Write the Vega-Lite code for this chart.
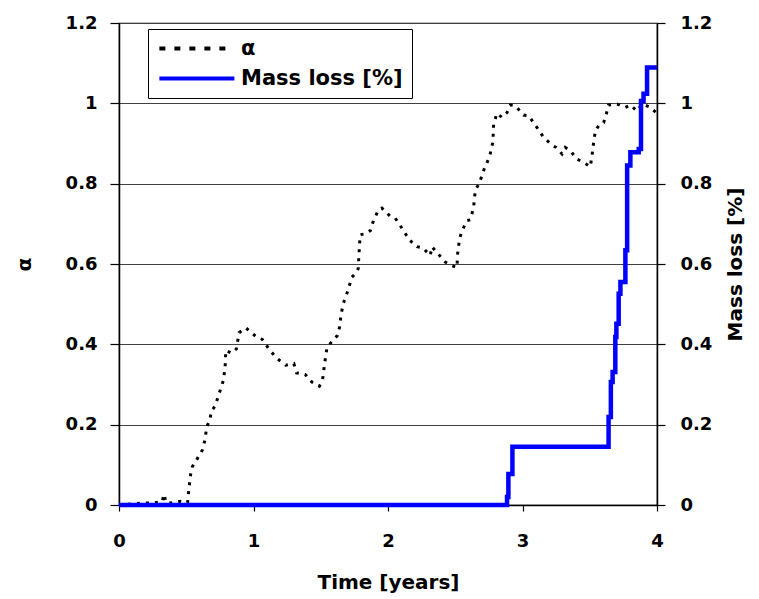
{
  "$schema": "https://vega.github.io/schema/vega-lite/v6.json",
  "width": 538,
  "height": 482,
  "autosize": "none",
  "padding": {"left": 119, "top": 23, "right": 102, "bottom": 94},
  "background": "white",
  "config": {
    "font": "DejaVu Sans",
    "view": {"stroke": "black", "strokeWidth": 1.2},
    "axis": {
      "labelFont": "DejaVu Sans", "labelFontWeight": "bold", "labelFontSize": 18, "labelColor": "black",
      "titleFont": "DejaVu Sans", "titleFontWeight": "bold", "titleFontSize": 20, "titleColor": "black",
      "domainColor": "black", "domainWidth": 1.5, "tickColor": "black", "tickWidth": 1.2,
      "gridColor": "#404040", "gridWidth": 1, "gridOpacity": 1, "format": "~g", "labelFlush": false
    }
  },
  "datasets": {
    "alpha": [
      {"t": 0, "v": 0}, {"t": 0.19, "v": 0.005}, {"t": 0.25, "v": 0.005}, {"t": 0.32, "v": 0.008},
      {"t": 0.335, "v": 0.027}, {"t": 0.35, "v": 0.006}, {"t": 0.385, "v": 0.005}, {"t": 0.46, "v": 0.009},
      {"t": 0.51, "v": 0.006}, {"t": 0.52, "v": 0.041}, {"t": 0.533, "v": 0.077}, {"t": 0.545, "v": 0.095},
      {"t": 0.583, "v": 0.116}, {"t": 0.62, "v": 0.137}, {"t": 0.64, "v": 0.163}, {"t": 0.652, "v": 0.195},
      {"t": 0.675, "v": 0.211}, {"t": 0.687, "v": 0.234}, {"t": 0.714, "v": 0.246}, {"t": 0.744, "v": 0.277},
      {"t": 0.776, "v": 0.31}, {"t": 0.789, "v": 0.344}, {"t": 0.794, "v": 0.385}, {"t": 0.838, "v": 0.378},
      {"t": 0.873, "v": 0.389}, {"t": 0.893, "v": 0.429}, {"t": 0.943, "v": 0.441}, {"t": 1.017, "v": 0.42},
      {"t": 1.066, "v": 0.412}, {"t": 1.121, "v": 0.385}, {"t": 1.178, "v": 0.364}, {"t": 1.24, "v": 0.348},
      {"t": 1.3, "v": 0.352}, {"t": 1.32, "v": 0.329}, {"t": 1.384, "v": 0.325}, {"t": 1.434, "v": 0.306},
      {"t": 1.49, "v": 0.296}, {"t": 1.513, "v": 0.31}, {"t": 1.528, "v": 0.35}, {"t": 1.545, "v": 0.389},
      {"t": 1.57, "v": 0.402}, {"t": 1.595, "v": 0.412}, {"t": 1.624, "v": 0.422}, {"t": 1.64, "v": 0.443},
      {"t": 1.652, "v": 0.476}, {"t": 1.669, "v": 0.503}, {"t": 1.702, "v": 0.534}, {"t": 1.731, "v": 0.567},
      {"t": 1.756, "v": 0.576}, {"t": 1.778, "v": 0.588}, {"t": 1.785, "v": 0.629}, {"t": 1.793, "v": 0.673},
      {"t": 1.83, "v": 0.675}, {"t": 1.868, "v": 0.683}, {"t": 1.892, "v": 0.708}, {"t": 1.93, "v": 0.735},
      {"t": 1.955, "v": 0.739}, {"t": 2.016, "v": 0.719}, {"t": 2.054, "v": 0.714}, {"t": 2.108, "v": 0.687},
      {"t": 2.158, "v": 0.66}, {"t": 2.215, "v": 0.643}, {"t": 2.26, "v": 0.64}, {"t": 2.314, "v": 0.621},
      {"t": 2.327, "v": 0.643}, {"t": 2.368, "v": 0.627}, {"t": 2.426, "v": 0.605}, {"t": 2.475, "v": 0.596},
      {"t": 2.513, "v": 0.591}, {"t": 2.517, "v": 0.624}, {"t": 2.532, "v": 0.663}, {"t": 2.55, "v": 0.682},
      {"t": 2.587, "v": 0.708}, {"t": 2.612, "v": 0.71}, {"t": 2.636, "v": 0.74}, {"t": 2.649, "v": 0.783},
      {"t": 2.681, "v": 0.803}, {"t": 2.698, "v": 0.82}, {"t": 2.718, "v": 0.839}, {"t": 2.755, "v": 0.867},
      {"t": 2.78, "v": 0.904}, {"t": 2.785, "v": 0.948}, {"t": 2.81, "v": 0.975}, {"t": 2.847, "v": 0.965},
      {"t": 2.885, "v": 0.977}, {"t": 2.91, "v": 0.996}, {"t": 2.946, "v": 0.994}, {"t": 3.008, "v": 0.971},
      {"t": 3.046, "v": 0.969}, {"t": 3.103, "v": 0.942}, {"t": 3.157, "v": 0.915}, {"t": 3.22, "v": 0.896},
      {"t": 3.25, "v": 0.89}, {"t": 3.294, "v": 0.874}, {"t": 3.318, "v": 0.89}, {"t": 3.356, "v": 0.882},
      {"t": 3.405, "v": 0.861}, {"t": 3.455, "v": 0.853}, {"t": 3.504, "v": 0.842}, {"t": 3.517, "v": 0.87},
      {"t": 3.529, "v": 0.903}, {"t": 3.542, "v": 0.932}, {"t": 3.574, "v": 0.948}, {"t": 3.603, "v": 0.952},
      {"t": 3.623, "v": 0.973}, {"t": 3.64, "v": 0.996}, {"t": 3.703, "v": 0.998}, {"t": 3.765, "v": 0.99},
      {"t": 3.802, "v": 0.996}, {"t": 3.852, "v": 0.981}, {"t": 3.889, "v": 0.998}, {"t": 3.946, "v": 0.991},
      {"t": 4.0, "v": 0.975}
    ],
    "mass": [
      {"t": 0, "v": 0}, {"t": 2.885, "v": 0.02}, {"t": 2.895, "v": 0.077}, {"t": 2.925, "v": 0.145},
      {"t": 3.64, "v": 0.219}, {"t": 3.657, "v": 0.306}, {"t": 3.67, "v": 0.331}, {"t": 3.69, "v": 0.418},
      {"t": 3.698, "v": 0.451}, {"t": 3.715, "v": 0.526}, {"t": 3.728, "v": 0.555}, {"t": 3.765, "v": 0.634},
      {"t": 3.778, "v": 0.845}, {"t": 3.802, "v": 0.878}, {"t": 3.864, "v": 0.886}, {"t": 3.881, "v": 1.006},
      {"t": 3.9, "v": 1.024}, {"t": 3.926, "v": 1.089}, {"t": 4.0, "v": 1.089}
    ]
  },
  "layer": [
    {
      "data": {"name": "alpha"},
      "transform": [{"calculate": "'α'", "as": "s"}],
      "encoding": {
        "x": {"field": "t", "type": "quantitative", "scale": {"domain": [0, 4], "nice": false},
              "axis": {"title": "Time [years]", "values": [0, 1, 2, 3, 4], "grid": false, "tickSize": 6, "labelPadding": 21, "titlePadding": 22}},
        "y": {"field": "v", "type": "quantitative", "scale": {"domain": [0, 1.2], "nice": false},
              "axis": {"title": "α", "values": [0, 0.2, 0.4, 0.6, 0.8, 1, 1.2], "grid": true, "tickSize": 9, "labelPadding": 13, "titleX": -85, "titleAngle": -90}},
        "color": {"field": "s", "type": "nominal",
                  "scale": {"domain": ["α", "Mass loss [%]"], "range": ["black", "#0000ff"]},
                  "legend": {"title": null, "orient": "none", "legendX": 29, "legendY": 6,
                             "strokeColor": "black", "fillColor": "white", "padding": 9,
                             "labelFont": "DejaVu Sans", "labelFontWeight": "bold", "labelFontSize": 21, "labelColor": "black", "labelLimit": 400,
                             "symbolType": "M-1.3,0H10.7", "symbolSize": 156.25, "symbolStrokeWidth": 4, "labelOffset": 63, "rowPadding": 8}}
      },
      "layer": [
        {"mark": {"type": "line", "strokeDash": [3, 6], "strokeWidth": 3}},
        {"mark": {"type": "line", "opacity": 0},
         "encoding": {"strokeDash": {"field": "s", "type": "nominal",
                      "scale": {"domain": ["α", "Mass loss [%]"], "range": [[6, 9], [1, 0]]},
                      "legend": {"title": null}}}}
      ]
    },
    {
      "data": {"name": "mass"},
      "transform": [{"calculate": "'Mass loss [%]'", "as": "s"}],
      "mark": {"type": "line", "interpolate": "step-after", "strokeWidth": 4.5},
      "encoding": {
        "x": {"field": "t", "type": "quantitative", "scale": {"domain": [0, 4], "nice": false}},
        "y": {"field": "v", "type": "quantitative", "scale": {"domain": [0, 1.2], "nice": false},
              "axis": {"orient": "right", "title": "Mass loss [%]", "values": [0, 0.2, 0.4, 0.6, 0.8, 1, 1.2], "grid": false, "tickSize": 8, "labelPadding": 15, "titleX": 88, "titleAngle": -90}},
        "color": {"field": "s", "type": "nominal", "scale": {"domain": ["α", "Mass loss [%]"], "range": ["black", "#0000ff"]}}
      }
    }
  ],
  "resolve": {"scale": {"y": "independent"}}
}
